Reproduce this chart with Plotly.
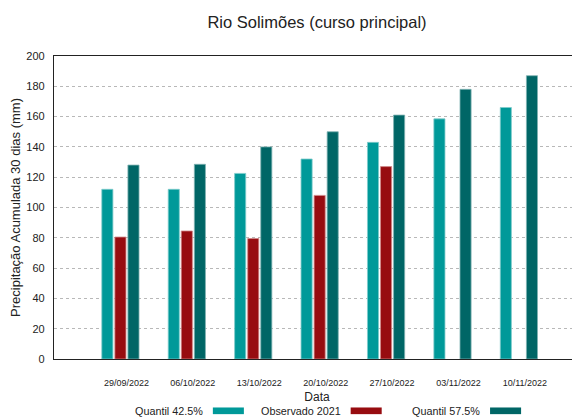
import plotly.graph_objects as go

# ---------------------------------------------------------------------------
# Data
# ---------------------------------------------------------------------------
datas = ["29/09/2022", "06/10/2022", "13/10/2022", "20/10/2022",
         "27/10/2022", "03/11/2022", "10/11/2022"]
quantil_425 = [112, 112, 122.5, 132, 143, 158.5, 166]
observado_2021 = [80.5, 84.5, 79.5, 108, 127, None, None]
quantil_575 = [128, 128.5, 140, 150, 161, 178, 187]

series = [
    ("Quantil 42.5%", quantil_425, "#009999", "#7fcccc"),
    ("Observado 2021", observado_2021, "#970c10", "#d08a8a"),
    ("Quantil 57.5%", quantil_575, "#006666", "#7fb2b2"),
]

FONT = "Liberation Sans, Arial, sans-serif"

fig = go.Figure()
for name, vals, color, edge in series:
    fig.add_trace(go.Bar(
        x=datas, y=vals, name=name,
        marker=dict(color=color, line=dict(color=edge, width=0.8)),
        showlegend=False,
    ))

# Legend drawn as text followed by a swatch (text left, colour right)
legend_x = [0.287, 0.549, 0.814]   # right edge of each label, paper units
for (name, _, color, _), lx in zip(series, legend_x):
    fig.add_annotation(
        text=name, xref="paper", yref="paper", x=lx, y=-0.172,
        xanchor="right", yanchor="middle", showarrow=False,
        font=dict(size=10.8, color="#222222", family=FONT),
    )
    fig.add_shape(
        type="rect", xref="paper", yref="paper",
        x0=lx + 0.015, x1=lx + 0.074, y0=-0.182, y1=-0.160,
        fillcolor=color, line=dict(width=0),
    )

# page body has an 8px margin, so the figure is sized 8px smaller
fig.update_layout(
    width=572, height=410,
    barmode="group", bargap=0.41, bargroupgap=0.15,
    plot_bgcolor="white", paper_bgcolor="white",
    margin=dict(l=46, r=0, t=48, b=59),
    font=dict(family=FONT, color="#222222"),
    title=dict(
        text="Rio Solimões (curso principal)",
        x=0.5, xref="paper", y=0.966, yref="container", yanchor="middle",
        font=dict(size=16.5, color="#222222", family=FONT),
    ),
    xaxis=dict(
        type="category", range=[-1, 6.92], automargin=False,
        showline=True, linecolor="#222222", linewidth=1.2, mirror=True,
        showgrid=False, ticks="", tickfont=dict(size=9, color="#222222"),
        ticklabelstandoff=15, ticklabelshift=6,
        title=dict(text="Data", font=dict(size=12), standoff=5),
    ),
    yaxis=dict(
        range=[0, 200], dtick=20, automargin=False,
        showline=True, linecolor="#222222", linewidth=1.2,
        showgrid=True, gridcolor="#b8b8b8", griddash="dot", gridwidth=1,
        zeroline=False, ticks="", tickfont=dict(size=11, color="#222222"),
        ticklabelstandoff=6,
        title=dict(text="Precipitação Acumulada 30 dias (mm)",
                   font=dict(size=13), standoff=4),
    ),
)

fig.write_html("out.html")
